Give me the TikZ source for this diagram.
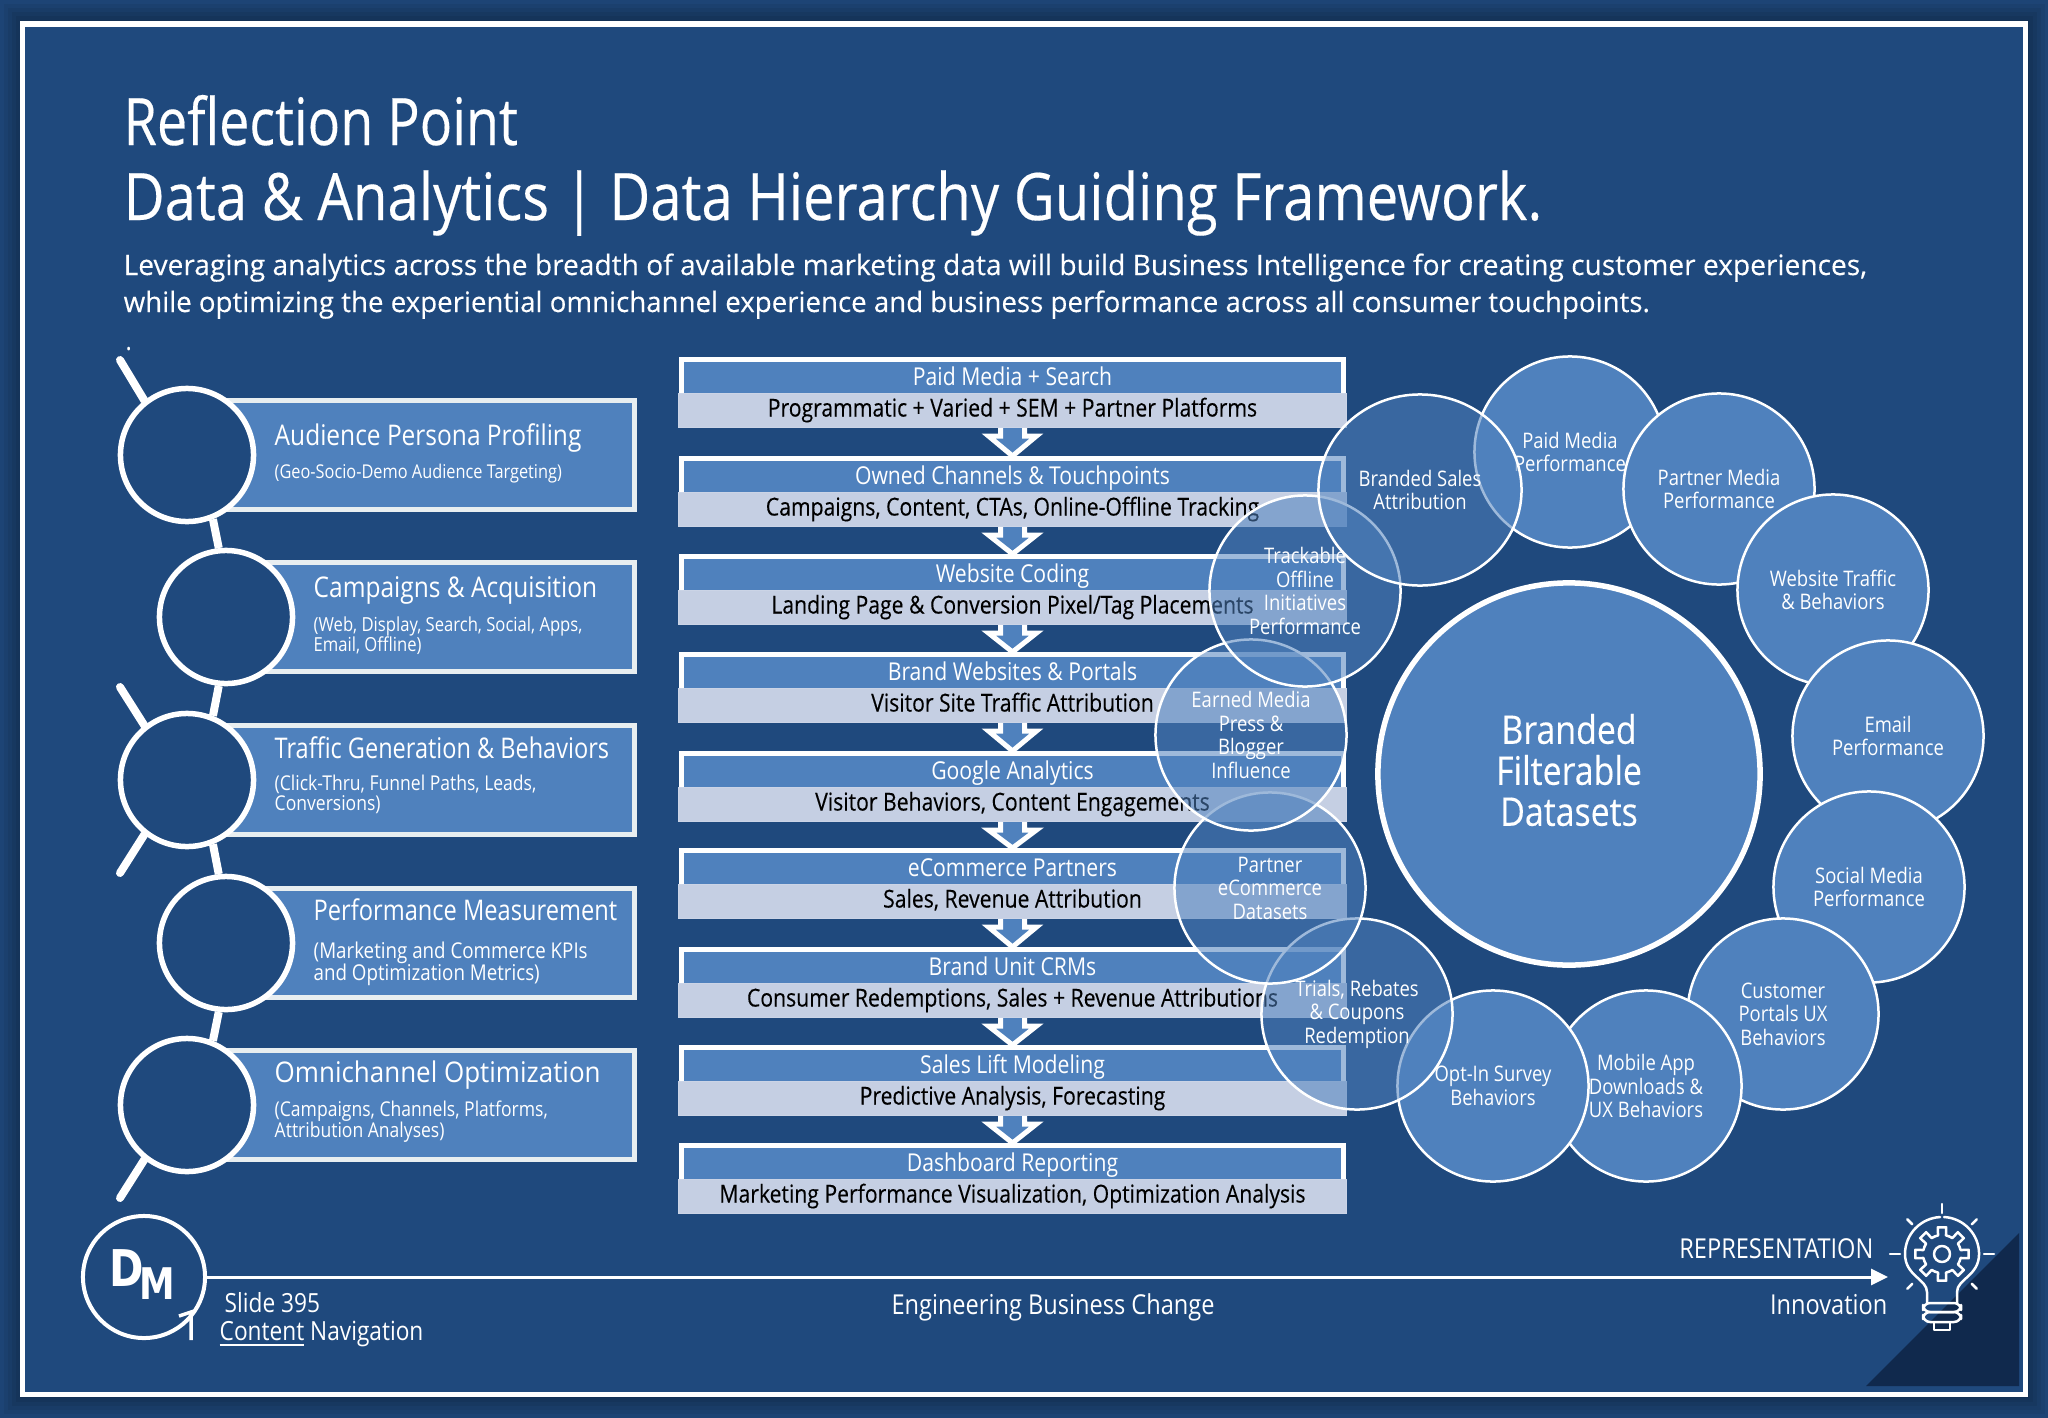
\documentclass[tikz,border=0pt]{standalone}
\usepackage{fontspec}
\setmainfont{Open Sans}[FakeStretch=0.86]
\newfontfamily\medfont{Open Sans}[FakeStretch=0.86,FakeBold=0.25]
\newfontfamily\introfont{Open Sans}[FakeStretch=1.0,FakeBold=0.25]
\newfontfamily\logofont{DejaVu Sans}[FakeStretch=0.82]
\usetikzlibrary{arrows.meta,shapes.geometric}
\definecolor{slate}{HTML}{1F497D}
\definecolor{midblue}{HTML}{4F81BD}
\definecolor{paleblue}{HTML}{C5CFE3}
\definecolor{nightblue}{HTML}{10294D}
\definecolor{edgewhite}{HTML}{E8EEF0}
\tikzset{
  titletext/.style={anchor=base west,inner sep=0pt,text=white,font=\medfont\fontsize{18.6pt}{20pt}\selectfont},
  introtext/.style={anchor=base west,inner sep=0pt,text=white,font=\introfont\fontsize{8pt}{9pt}\selectfont},
  listbox/.style={anchor=east,draw=edgewhite,fill=midblue,line width=.05cm,minimum height=1.09cm,inner sep=0pt},
  listring/.style={circle,draw=white,fill=slate,line width=.055cm,minimum size=1.33cm,inner sep=0pt},
  listhead/.style={anchor=base west,inner sep=0pt,text=white,font=\fontsize{8.1pt}{9pt}\selectfont},
  listsub/.style={anchor=base west,inner sep=0pt,text=white,align=left,font=\fontsize{5.4pt}{5.7pt}\selectfont},
  widesub/.style={listsub,anchor=north west,font=\fontsize{5.8pt}{5.9pt}\selectfont},
  spine/.style={draw=white,line width=.08cm},
  headbox/.style={anchor=north,draw=white,fill=midblue,line width=.05cm,minimum width=6.62cm,minimum height=.37cm,inner sep=0pt,
    text=white,text height=.19cm,text depth=.04cm,font=\fontsize{7pt}{8pt}\selectfont},
  subbox/.style={anchor=north,draw=paleblue!90!white,fill=paleblue,line width=.01cm,minimum width=6.67cm,minimum height=.34cm,inner sep=0pt,
    text=black,text height=.16cm,text depth=.04cm,font=\medfont\fontsize{7pt}{8pt}\selectfont},
  flowarrow/.style={draw=white,fill=midblue,line width=.05cm},
  bubble/.style={circle,draw=white,fill=midblue,line width=.025cm,minimum size=1.91cm,inner sep=0pt,align=center,
    text=white,text opacity=1,font=\fontsize{6.1pt}{6.7pt}\selectfont},
  seebubble/.style={bubble,fill opacity=.55},
  plaintext/.style={anchor=base west,inner sep=0pt,text=white,font=\fontsize{7.8pt}{9pt}\selectfont},
  bulbline/.style={draw=white,line width=.025cm,line cap=round,line join=round},
}
\begin{document}
\begin{tikzpicture}[x=.01cm,y=-.01cm]
\useasboundingbox (0,0) rectangle (2048,1418);
\fill[slate] (0,0) rectangle (2048,1418);
% soft edge round the frame
\foreach \w in {.08,.16,.24,.32,.4,.48}
  \draw[black,opacity=.06,line width=\w cm] (24,24) rectangle (2025,1394);
\fill[slate] (24,24) rectangle (2025,1394);
\fill[nightblue] (1866,1386) -- (2019,1386) -- (2019,1233) -- cycle;
\draw[white,line width=.05cm] (22.5,24) rectangle (2025.5,1394.5);

% title
\node[titletext] (title1) at (123,145) {\scalebox{.958}[1]{Reflection Point}};
\node[titletext] (title2) at (123,220) {Data \& Analytics | Data Hierarchy Guiding Framework.};
\node[introtext] (intro1) at (123,275) {Leveraging analytics across the breadth of available marketing data will build Business Intelligence for creating customer experiences,};
\node[introtext] (intro2) at (123,312) {\scalebox{.983}[1]{while optimizing the experiential omnichannel experience and business performance across all consumer touchpoints.}};
\node[plaintext] (dot) at (125,350) {.};

% left list
\foreach \n/\xc/\yc in {1/187/455,2/226/617,3/187/780,4/226/943,5/187/1105}
  \node[listbox,minimum width={(637-\xc)*.01cm}] (b\n) at (637,\yc) {};
\foreach \n/\xc/\yc in {1/187/455,2/226/617,3/187/780,4/226/943,5/187/1105}
  \node[listring] (c\n) at (\xc,\yc) {};
\coordinate (t1) at (120,360);
\coordinate (t2) at (120,687);
\coordinate (t3) at (120,873);
\coordinate (t4) at (120,1198);
\draw[spine] (c1.-68) -- (c2.96);
\draw[spine] (c2.-96) -- (c3.68);
\draw[spine] (c3.-68) -- (c4.96);
\draw[spine] (c4.-96) -- (c5.68);
\draw[spine,line cap=round] (t1) -- (c1.128);
\draw[spine,line cap=round] (t2) -- (c3.128);
\draw[spine,line cap=round] (t3) -- (c3.-128);
\draw[spine,line cap=round] (t4) -- (c5.-128);

\node[listhead] (lh1) at (274,445) {Audience Persona Profiling};
\node[listsub] (ls1) at (274,478) {(Geo-Socio-Demo Audience Targeting)};
\node[listhead] (lh2) at (313,597) {Campaigns \& Acquisition};
\node[listsub,anchor=north west,font=\fontsize{5.5pt}{5.7pt}\selectfont] (ls2) at (313,616) {(Web, Display, Search, Social, Apps,\\Email, Offline)};
\node[listhead] (lh3) at (274,758) {\scalebox{.96}[1]{Traffic Generation \& Behaviors}};
\node[widesub] (ls3) at (274,774) {(Click-Thru, Funnel Paths, Leads,\\Conversions)};
\node[listhead] (lh4) at (313,920) {\scalebox{.965}[1]{Performance Measurement}};
\node[widesub,font=\fontsize{6.2pt}{6.2pt}\selectfont] (ls4) at (313,941) {(Marketing and Commerce KPIs\\and Optimization Metrics)};
\node[listhead] (lh5) at (274,1082) {\scalebox{1.06}[1]{Omnichannel Optimization}};
\node[widesub] (ls5) at (274,1100) {(Campaigns, Channels, Platforms,\\Attribution Analyses)};

% middle stack
\foreach \n/\yy/\head/\sub in {
  1/357/{Paid Media + Search}/{Programmatic + Varied + SEM + Partner Platforms},
  2/456/{Owned Channels \& Touchpoints}/{Campaigns, Content, CTAs, Online-Offline Tracking},
  3/554/{Website Coding}/{Landing Page \& Conversion Pixel/Tag Placements},
  4/652/{Brand Websites \& Portals}/{Visitor Site Traffic Attribution},
  5/751/{Google Analytics}/{Visitor Behaviors, Content Engagements},
  6/848/{eCommerce Partners}/{Sales, Revenue Attribution},
  7/947/{Brand Unit CRMs}/{Consumer Redemptions, Sales + Revenue Attributions},
  8/1045/{Sales Lift Modeling}/{Predictive Analysis, Forecasting},
  9/1143/{Dashboard Reporting}/{Marketing Performance Visualization, Optimization Analysis}}{
  \node[headbox] (h\n) at (1012.5,\yy) {\head};
  \node[subbox] (s\n) at (1012.5,\yy+36) {\sub};
}
\foreach \i/\j in {1/2,2/3,3/4,4/5,5/6,6/7,7/8,8/9}
  \draw[flowarrow] ([shift={(-12,0)}]s\i.south) -- ([shift={(-12,8)}]s\i.south) -- ([shift={(-24,8)}]s\i.south)
    -- (h\j.north) -- ([shift={(24,8)}]s\i.south) -- ([shift={(12,8)}]s\i.south) -- ([shift={(12,0)}]s\i.south);

% ring of datasets
\node[bubble] (paid) at (1570,452) {Paid Media\\Performance};
\node[bubble] (partner) at (1719,489) {Partner Media\\Performance};
\node[bubble] (website) at (1833,590) {Website Traffic\\\& Behaviors};
\node[bubble] (email) at (1888,736) {Email\\Performance};
\node[bubble] (social) at (1869,887) {Social Media\\Performance};
\node[bubble] (customer) at (1783,1014) {Customer\\Portals UX\\Behaviors};
\node[bubble] (mobile) at (1646,1086) {Mobile App\\Downloads \&\\UX Behaviors};
\node[bubble] (optin) at (1493,1086) {Opt-In Survey\\Behaviors};
\node[seebubble] (trials) at (1357,1014) {Trials, Rebates\\\& Coupons\\Redemption};
\node[seebubble] (ecom) at (1270,888) {Partner\\eCommerce\\Datasets};
\node[seebubble] (earned) at (1251,735) {Earned Media\\Press \&\\Blogger\\Influence};
\node[seebubble] (offline) at (1305,591) {Trackable\\Offline\\Initiatives\\Performance};
\node[seebubble,ellipse,minimum width=2.03cm,minimum height=1.91cm] (sales) at (1420,490) {Branded Sales\\Attribution};
\node[bubble,line width=.055cm,minimum size=3.82cm] (hub) at (1569,774) {};
\node[align=center,inner sep=0pt,text=white,font=\medfont\fontsize{11.2pt}{11.66pt}\selectfont] (hubtext) at (1569,770) {Branded\\Filterable\\Datasets};

% footer
\node[circle,draw=white,line width=.04cm,minimum size=1.22cm,inner sep=0pt] (logo) at (144,1277) {};
\node[anchor=base,inner sep=0pt,text=white,font=\logofont\bfseries\fontsize{14.4pt}{16pt}\selectfont] (logod) at (127,1286) {D};
\node[anchor=base,inner sep=0pt,text=white,font=\logofont\bfseries\fontsize{12.4pt}{14pt}\selectfont] (logom) at (157,1299) {M};
\draw[white,line width=.035cm] (179,1316) -- (194,1311) (191,1313) -- (191,1340);
\coordinate (lineend) at (1888,1277);
\draw[white,line width=.03cm,-{Triangle[length=.17cm,width=.16cm]}] (logo.east) -- (lineend);
\node[plaintext,font=\fontsize{7.5pt}{9pt}\selectfont] (slide) at (224,1312) {Slide 395};
\node[plaintext,font=\fontsize{7.5pt}{9pt}\selectfont] (nav) at (219,1340) {\underline{Content} Navigation};
\node[plaintext,anchor=base] (motto) at (1053,1314) {Engineering Business Change};
\node[plaintext,anchor=base east] (repr) at (1874,1258) {REPRESENTATION};
\node[plaintext,anchor=base east] (innov) at (1888,1314) {Innovation};

% bulb
\begin{scope}[shift={(1942,1254)}]
  \draw[bulbline] (-15,49) -- (-15,38) .. controls (-15,25) and (-37,22) .. (-37,0) arc[start angle=180,end angle=267,radius=37];
  \draw[bulbline] (2,-37) arc[start angle=273,end angle=360,radius=37] .. controls (37,22) and (15,25) .. (15,38) -- (15,49);
  \foreach \a in {0,45,...,315}
    \draw[bulbline] (\a-22.5:19) -- (\a-12:19) -- (\a-9:27) -- (\a+9:27) -- (\a+12:19) -- (\a+22.5:19);
  \draw[bulbline] (0,0) circle (8);
  \foreach \a/\r/\q in {270/41/50,225/42/49,315/42/49,180/42/52,0/42/52,135/42/49,45/42/49}
    \draw[bulbline] (\a:\r) -- (\a:\q);
  \draw[bulbline,rounded corners=2pt] (-19,49) rectangle (19,58);
  \draw[bulbline,rounded corners=2pt] (-19,58) rectangle (19,68);
  \draw[bulbline] (-8,68) rectangle (8,76);
\end{scope}
\end{tikzpicture}
\end{document}
